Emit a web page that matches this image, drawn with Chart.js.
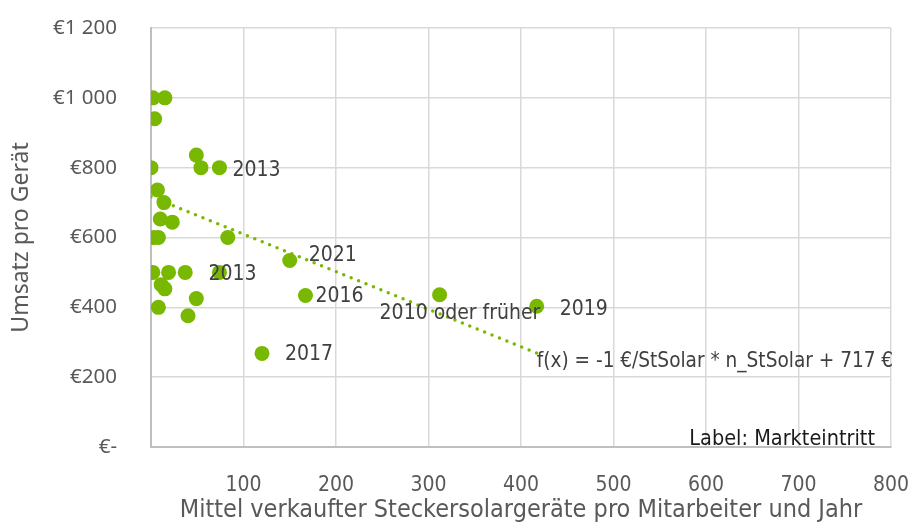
<!DOCTYPE html>
<html>
<head>
<meta charset="utf-8">
<script src="https://cdn.jsdelivr.net/npm/chart.js@4/dist/chart.umd.min.js"></script>
<style>
  body { margin: 0; background: #fff; }
  #wrap { width: 909px; height: 525px; }
</style>
</head>
<body>
<div id="wrap"><canvas id="salesChart" width="909" height="525"></canvas></div>
<script>
// Data
const unitsPerEmployee = [2, 15, 4, 49, 0, 54, 74, 7, 14, 10, 23, 3, 8, 83, 150, 2, 19, 37, 74, 11, 15, 49, 8, 40, 167, 120, 312, 417];
const revenuePerDevice = [1000, 1000, 940, 836, 800, 800, 800, 736, 700, 653, 644, 600, 600, 600, 534, 500, 500, 500, 500, 465, 453, 425, 400, 376, 434, 268, 436, 403];
const marketEntry = ['', '', '', '', '', '', '2013', '', '', '', '', '', '', '', '2021', '', '', '', '2013', '', '', '', '', '', '2016', '2017', '2010 oder früher', '2019'];

// Trendline end points (as shown in the picture)
const trendX = [0, 417];
const trendY = [717, 269];

const xTicks = [0, 100, 200, 300, 400, 500, 600, 700, 800];
const yTicks = [0, 200, 400, 600, 800, 1000, 1200];

const equationText = 'f(x) = -1 €/StSolar * n_StSolar + 717 €';
const noteText = 'Label: Markteintritt';

const narrow = "'Liberation Sans Narrow', 'DejaVu Sans Condensed', sans-serif";
const wide = "'Noto Sans', 'Open Sans', sans-serif";
const green = '#78b800';

// label placement relative to the point
const labelOffsets = {
  6: [13, 3],
  14: [19, -5],
  18: [-11, 2],
  24: [10, 1],
  25: [23, 1],
  26: [-60, 19],
  27: [23, 3]
};

const points = unitsPerEmployee.map((x, i) => ({ x: x, y: revenuePerDevice[i] }));
const trend = trendX.map((x, i) => ({ x: x, y: trendY[i] }));

function euro(v) {
  if (v === 0) return '€-';
  return '€' + String(v).replace(/\B(?=(\d{3})+(?!\d))/g, ' ');
}

const labelPlugin = {
  id: 'pointLabels',
  afterDatasetsDraw(chart) {
    const ctx = chart.ctx;
    const meta = chart.getDatasetMeta(0);
    ctx.save();
    ctx.font = '21px ' + narrow;
    ctx.fillStyle = '#404040';
    ctx.textBaseline = 'middle';
    ctx.textAlign = 'left';
    meta.data.forEach((pt, i) => {
      const text = marketEntry[i];
      if (!text) return;
      const off = labelOffsets[i] || [12, 2];
      ctx.fillText(text, pt.x + off[0], pt.y + off[1]);
    });

    // trendline equation
    const xs = chart.scales.x, ys = chart.scales.y;
    ctx.font = '20.6px ' + narrow;
    ctx.fillText(equationText, xs.getPixelForValue(trendX[1]), ys.getPixelForValue(trendY[1]) + 9);

    // note in the corner
    const area = chart.chartArea;
    ctx.font = '21.5px ' + narrow;
    ctx.textAlign = 'right';
    ctx.fillStyle = '#1a1a1a';
    ctx.fillText(noteText, area.right - 16, area.bottom - 8);
    ctx.restore();
  }
};

new Chart(document.getElementById('salesChart'), {
  type: 'scatter',
  data: {
    datasets: [
      {
        label: 'Umsatz',
        data: points,
        backgroundColor: green,
        borderColor: green,
        pointRadius: 7.5,
        pointHoverRadius: 7.5,
        borderWidth: 0,
        order: 2
      },
      {
        label: 'Trend',
        type: 'line',
        data: trend,
        showLine: true,
        borderColor: green,
        borderWidth: 3.5,
        borderDash: [0, 8],
        borderCapStyle: 'round',
        pointRadius: 0,
        fill: false,
        order: 1
      }
    ]
  },
  options: {
    responsive: false,
    animation: false,
    layout: { padding: { top: 28, right: 18, left: 0, bottom: 0 } },
    plugins: {
      legend: { display: false },
      tooltip: { enabled: false }
    },
    scales: {
      x: {
        type: 'linear',
        min: 0,
        max: 800,
        afterBuildTicks: (scale) => { scale.ticks = xTicks.map(v => ({ value: v })); },
        afterFit: (scale) => {
          scale.height = 78;
          scale.paddingLeft = 0;
          scale.paddingRight = 0;
        },
        grid: { color: '#d9d9d9', lineWidth: 1.5, drawTicks: false },
        border: { color: '#bfbfbf', width: 2 },
        ticks: {
          padding: 26,
          color: '#595959',
          font: { family: narrow, size: 21 },
          callback: (v) => v === 0 ? '' : v
        },
        title: {
          display: true,
          text: 'Mittel verkaufter Steckersolargeräte pro Mitarbeiter und Jahr',
          color: '#595959',
          font: { family: narrow, size: 25 },
          padding: { bottom: 0, top: 0 }
        }
      },
      y: {
        type: 'linear',
        min: 0,
        max: 1200,
        afterBuildTicks: (scale) => { scale.ticks = yTicks.map(v => ({ value: v })); },
        afterFit: (scale) => {
          scale.width = 151;
          scale.paddingTop = 0;
          scale.paddingBottom = 0;
        },
        grid: { color: '#d9d9d9', lineWidth: 1.5, drawTicks: false },
        border: { color: '#bfbfbf', width: 2 },
        ticks: {
          padding: 34,
          color: '#595959',
          font: { family: wide, size: 20.5 },
          callback: (v) => euro(v)
        },
        title: {
          display: true,
          text: 'Umsatz pro Gerät',
          color: '#595959',
          font: { family: wide, size: 23 },
          padding: { top: 8, bottom: 0 }
        }
      }
    }
  },
  plugins: [labelPlugin]
});
</script>
</body>
</html>
